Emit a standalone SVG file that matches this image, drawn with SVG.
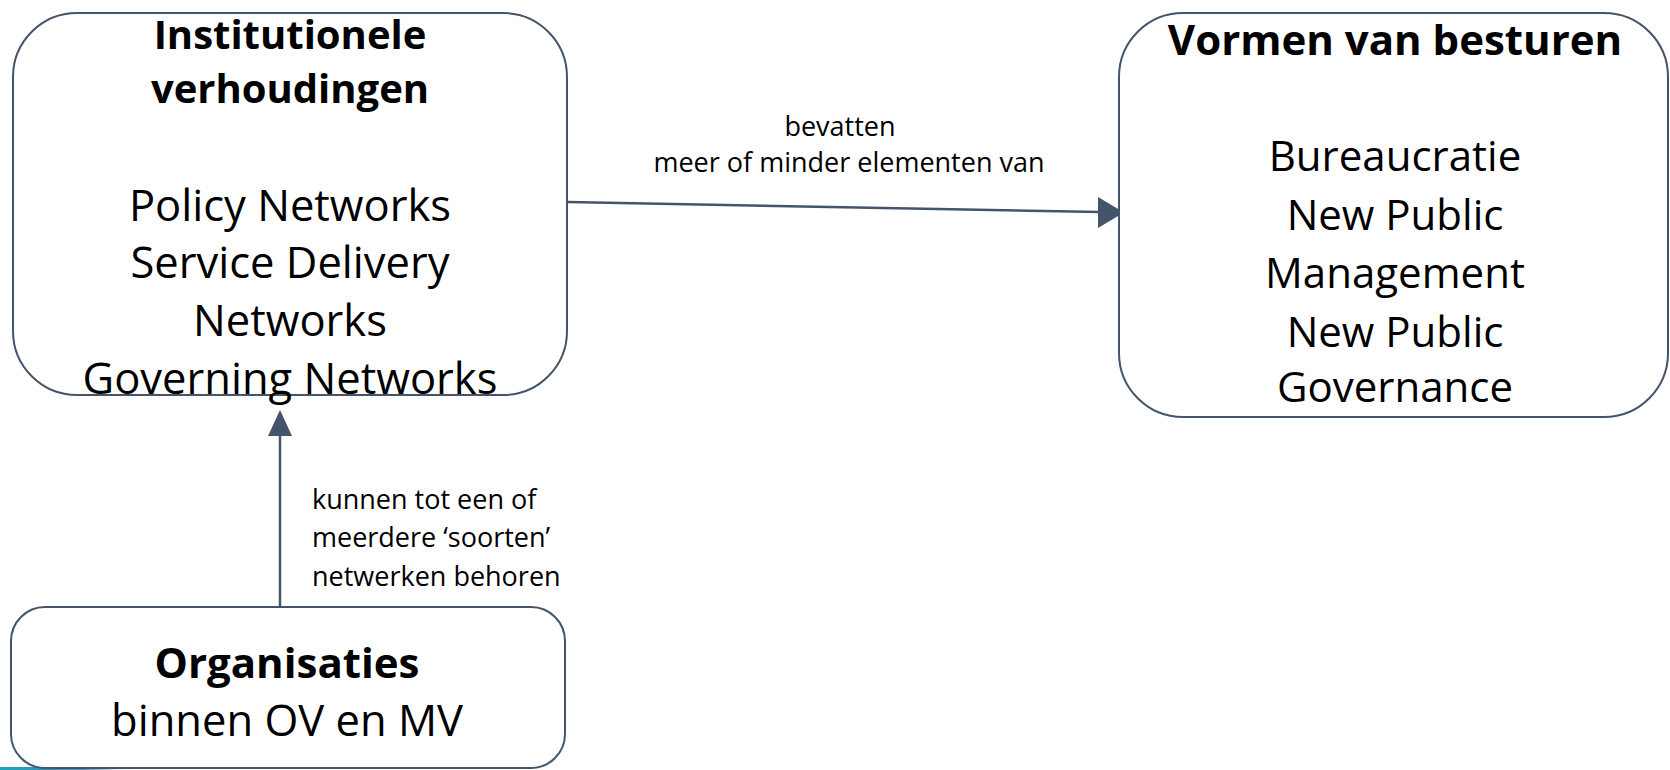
<svg xmlns="http://www.w3.org/2000/svg" width="1670" height="770" viewBox="0 0 1670 770">
<style>
.box{fill:#fff;stroke:#44546A;stroke-width:2}
.t{font-family:"Open Sans","Noto Sans",sans-serif;fill:#000;text-anchor:middle}
.big{font-size:42px}
.mid{font-size:43.5px}
.b{font-weight:bold}
.lbl{font-size:27px}
.conn{stroke:#44546A;stroke-width:2.5;fill:none}
</style>
<defs>
<linearGradient id="strip" x1="0" x2="1" y1="0" y2="0">
<stop offset="0" stop-color="#1aa3b8"/>
<stop offset="0.6" stop-color="#4a8fc0"/>
<stop offset="1" stop-color="#ffffff" stop-opacity="0"/>
</linearGradient>
</defs>
<rect x="0" y="767" width="140" height="3" fill="url(#strip)"/>
<g id="connectors">
<line class="conn" x1="568" y1="202" x2="1100" y2="212"/>
<path d="M1098,197 L1124,212.5 L1098,228 Z" fill="#44546A"/>
<line class="conn" x1="280" y1="607" x2="280" y2="432"/>
<path d="M268,436 L280,410 L292,436 Z" fill="#44546A"/>
<text class="t lbl" x="840" y="136">bevatten</text>
<text class="t lbl" x="849" y="172">meer of minder elementen van</text>
<text class="t lbl" style="text-anchor:start" x="312" y="509">kunnen tot een of</text>
<text class="t lbl" style="text-anchor:start" x="312" y="547">meerdere ‘soorten’</text>
<text class="t lbl" style="text-anchor:start" x="312" y="586">netwerken behoren</text>
</g>
<g id="node-institutioneel">
<rect class="box" x="13" y="13" width="554" height="382" rx="64"/>
<text class="t b" style="font-size:40px" x="290" y="49">Institutionele</text>
<text class="t b" style="font-size:40px" x="290" y="103">verhoudingen</text>
<text class="t mid" x="290" y="221">Policy Networks</text>
<text class="t mid" x="290" y="278">Service Delivery</text>
<text class="t mid" x="290" y="336">Networks</text>
<text class="t mid" x="290" y="394">Governing Networks</text>
</g>
<g id="node-vormen">
<rect class="box" x="1119" y="13" width="549" height="404" rx="64"/>
<text class="t big b" x="1395" y="55">Vormen van besturen</text>
<text class="t big" x="1395" y="171">Bureaucratie</text>
<text class="t big" x="1395" y="230">New Public</text>
<text class="t big" x="1395" y="288">Management</text>
<text class="t big" x="1395" y="347">New Public</text>
<text class="t big" x="1395" y="402">Governance</text>
</g>
<g id="node-organisaties">
<rect class="box" x="11" y="607" width="554" height="161" rx="34"/>
<text class="t big b" x="287" y="678">Organisaties</text>
<text class="t mid" x="287" y="736">binnen OV en MV</text>
</g>
</svg>
